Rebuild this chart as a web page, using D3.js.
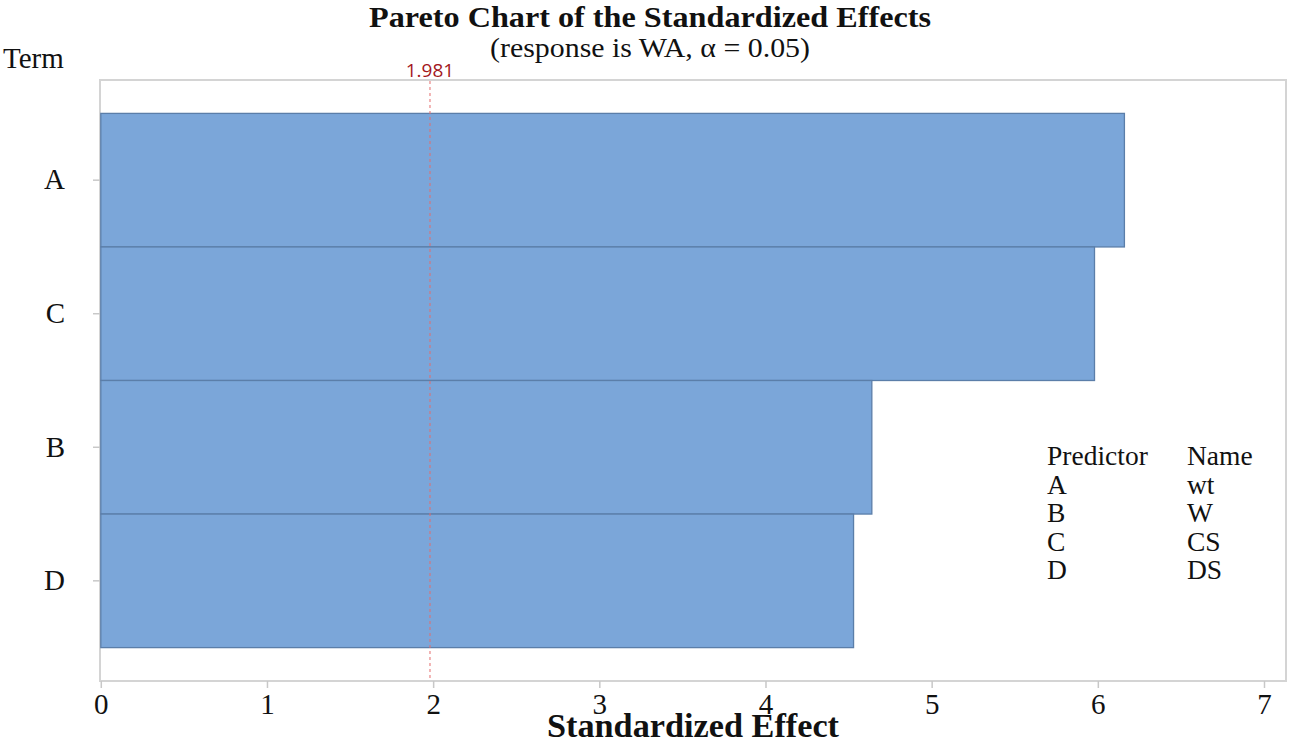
<!DOCTYPE html>
<html>
<head>
<meta charset="utf-8">
<script src="https://cdn.jsdelivr.net/npm/d3@7"></script>
<style>
  html, body { margin: 0; padding: 0; background: #fff; }
  svg { display: block; }
</style>
</head>
<body>
<svg id="chart" width="1290" height="742"></svg>
<script>
// ---- data ----
const terms = ["A", "C", "B", "D"];
const effects = [6.16, 5.98, 4.64, 4.53];
const xTicks = [0, 1, 2, 3, 4, 5, 6, 7];
const critical = 1.981;
const predictors = ["A", "B", "C", "D"];
const predictorNames = ["wt", "W", "CS", "DS"];

const svg = d3.select("#chart");
const serif = "'Liberation Serif', 'Times New Roman', serif";

const frame = { left: 100, right: 1286, top: 80, bottom: 681 };
const x = d3.scaleLinear().domain([0, 7]).range([100.8, 1264]);
const y = d3.scaleBand().domain(terms).range([frame.top, frame.bottom]).paddingInner(0).paddingOuter(0.25);

// frame
svg.append("rect")
  .attr("x", frame.left).attr("y", frame.top)
  .attr("width", frame.right - frame.left).attr("height", frame.bottom - frame.top)
  .attr("fill", "#fff").attr("stroke", "#d4d4d4").attr("stroke-width", 2);

// bars
svg.append("g").selectAll("rect").data(terms).join("rect")
  .attr("x", x(0))
  .attr("y", d => y(d))
  .attr("width", (d, i) => x(effects[i]) - x(0))
  .attr("height", y.bandwidth())
  .attr("fill", "#7ba6d9")
  .attr("stroke", "#5b7ea9")
  .attr("stroke-width", 1.3);

// reference line
svg.append("line")
  .attr("x1", x(critical)).attr("x2", x(critical))
  .attr("y1", frame.top + 1).attr("y2", frame.bottom - 1)
  .attr("stroke", "#e46b6b").attr("stroke-width", 1)
  .attr("stroke-dasharray", "3,3");
svg.append("text")
  .attr("x", x(critical)).attr("y", 77)
  .attr("text-anchor", "middle")
  .attr("font-family", "'Open Sans', 'DejaVu Sans', sans-serif")
  .attr("font-size", 19)
  .attr("fill", "#a3171c")
  .text(critical.toFixed(3));

// x axis
const xAxis = svg.append("g")
  .attr("transform", `translate(0,${frame.bottom})`)
  .call(d3.axisBottom(x).tickValues(xTicks).tickFormat(d3.format("d")).tickSize(7).tickPadding(5));
xAxis.select(".domain").remove();
xAxis.selectAll(".tick line").attr("stroke", "#c8c8c8").attr("stroke-width", 1.5);
xAxis.selectAll(".tick text")
  .attr("font-family", serif).attr("font-size", 29).attr("fill", "#111");

// y axis
const yAxis = svg.append("g")
  .attr("transform", `translate(${frame.left},0)`)
  .call(d3.axisLeft(y).tickSize(7).tickPadding(28));
yAxis.select(".domain").remove();
yAxis.selectAll(".tick line").attr("stroke", "#c8c8c8").attr("stroke-width", 1.5);
yAxis.selectAll(".tick text")
  .attr("font-family", serif).attr("font-size", 29).attr("fill", "#111");

// titles
svg.append("text")
  .attr("x", 650).attr("y", 27)
  .attr("text-anchor", "middle")
  .attr("font-family", serif).attr("font-weight", "bold").attr("font-size", 30)
  .attr("textLength", 562).attr("lengthAdjust", "spacingAndGlyphs")
  .attr("fill", "#111")
  .text("Pareto Chart of the Standardized Effects");
svg.append("text")
  .attr("x", 650).attr("y", 57)
  .attr("text-anchor", "middle")
  .attr("font-family", serif).attr("font-size", 27)
  .attr("textLength", 320).attr("lengthAdjust", "spacingAndGlyphs")
  .attr("fill", "#111")
  .text("(response is WA, α = 0.05)");
svg.append("text")
  .attr("x", 3).attr("y", 68)
  .attr("font-family", serif).attr("font-size", 29)
  .attr("fill", "#111")
  .text("Term");
svg.append("text")
  .attr("x", (frame.left + frame.right) / 2).attr("y", 737)
  .attr("text-anchor", "middle")
  .attr("font-family", serif).attr("font-weight", "bold").attr("font-size", 33)
  .attr("textLength", 292).attr("lengthAdjust", "spacingAndGlyphs")
  .attr("fill", "#111")
  .text("Standardized Effect");

// legend table
const leg = svg.append("g").attr("font-family", serif).attr("font-size", 27.5).attr("fill", "#111");
leg.append("text").attr("x", 1047).attr("y", 465).text("Predictor");
leg.append("text").attr("x", 1187).attr("y", 465).text("Name");
predictors.forEach((p, i) => {
  leg.append("text").attr("x", 1047).attr("y", 493.5 + i * 28.5).text(p);
  leg.append("text").attr("x", 1187).attr("y", 493.5 + i * 28.5).text(predictorNames[i]);
});
</script>
</body>
</html>
